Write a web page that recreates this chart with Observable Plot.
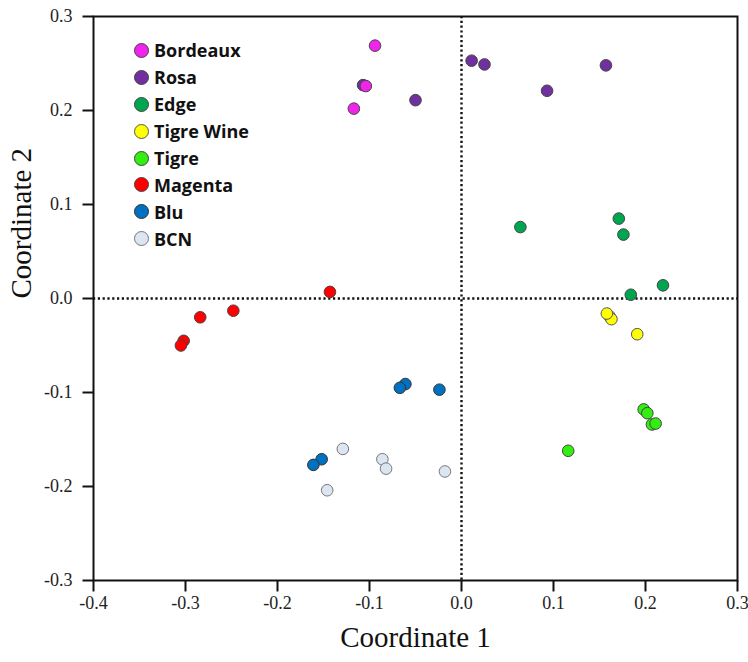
<!DOCTYPE html>
<html>
<head>
<meta charset="utf-8">
<script src="https://cdn.jsdelivr.net/npm/d3@7"></script>
<script src="https://cdn.jsdelivr.net/npm/@observablehq/plot@0.6"></script>
<style>
  html, body { margin: 0; padding: 0; background: #fff; }
  #wrap { position: relative; width: 748px; height: 662px; }
  #legend { position: absolute; left: 134px; top: 37px; font-family: "Open Sans", sans-serif; font-weight: 700; font-size: 18px; color: #111; }
  .row { display: flex; align-items: center; height: 26.9px; }
  .sw { width: 13px; height: 13px; border-radius: 50%; border: 1px solid #555; margin-right: 5px; box-sizing: content-box; }
</style>
</head>
<body>
<div id="wrap"><div id="legend"></div></div>
<script>
const categories = ["Bordeaux", "Rosa", "Edge", "Tigre Wine", "Tigre", "Magenta", "Blu", "BCN"];
const colors = ["#f024ea", "#7030a0", "#00a550", "#ffff00", "#33ee11", "#ff0000", "#0070c0", "#dce6f2"];
const strokes = ["#444", "#444", "#444", "#555", "#444", "#444", "#333", "#777"];

const bordeaux = [[-0.094, 0.269], [-0.104, 0.226], [-0.117, 0.202]];
const rosa = [[-0.107, 0.227], [-0.050, 0.211], [0.011, 0.253], [0.025, 0.249], [0.093, 0.221], [0.157, 0.248]];
const edge = [[0.064, 0.076], [0.171, 0.085], [0.176, 0.068], [0.219, 0.014], [0.184, 0.004]];
const tigreWine = [[0.161, -0.019], [0.163, -0.022], [0.158, -0.016], [0.191, -0.038]];
const tigre = [[0.198, -0.118], [0.202, -0.122], [0.207, -0.134], [0.211, -0.133], [0.116, -0.162]];
const magenta = [[-0.143, 0.007], [-0.248, -0.013], [-0.284, -0.020], [-0.302, -0.045], [-0.305, -0.050]];
const blu = [[-0.061, -0.091], [-0.067, -0.095], [-0.024, -0.097], [-0.152, -0.171], [-0.161, -0.177]];
const bcn = [[-0.129, -0.160], [-0.086, -0.171], [-0.082, -0.181], [-0.146, -0.204], [-0.018, -0.184]];

const xTicks = [-0.4, -0.3, -0.2, -0.1, 0.0, 0.1, 0.2, 0.3];
const yTicks = [-0.3, -0.2, -0.1, 0.0, 0.1, 0.2, 0.3];
const xDomain = [-0.4, 0.3];
const yDomain = [-0.3, 0.3];

const series = [bordeaux, rosa, edge, tigreWine, tigre, magenta, blu, bcn];
// draw order: Rosa beneath Bordeaux
const drawOrder = [1, 0, 2, 3, 4, 5, 6, 7];
const points = [];
for (const i of drawOrder) {
  for (const [x, y] of series[i]) points.push({x, y, group: categories[i], stroke: strokes[i]});
}

const W = 748, H = 662, ML = 93, MR = 11, MT = 16, MB = 82;
const TICK = 11;
// tick length converted from pixels to data units (layout only)
const tx = (xDomain[1] - xDomain[0]) * TICK / (W - ML - MR);
const ty = (yDomain[1] - yDomain[0]) * TICK / (H - MT - MB);

const fmt = d => d.toFixed(1);

const chart = Plot.plot({
  width: W,
  height: H,
  marginLeft: ML,
  marginRight: MR,
  marginTop: MT,
  marginBottom: MB,
  style: {fontFamily: "'Liberation Serif', serif", fontSize: "18px", background: "#fff", color: "#111"},
  x: {domain: xDomain, axis: null},
  y: {domain: yDomain, axis: null},
  color: {domain: categories, range: colors},
  marks: [
    Plot.ruleX([0], {stroke: "#111", strokeWidth: 2.4, strokeDasharray: "2.2,2.6"}),
    Plot.ruleY([0], {stroke: "#111", strokeWidth: 2.4, strokeDasharray: "2.2,2.6"}),
    Plot.dot(points, {x: "x", y: "y", fill: "group", stroke: "stroke", strokeWidth: 1, r: 5.8, fillOpacity: 1}),
    Plot.frame({stroke: "#111", strokeWidth: 2}),
    Plot.link(xTicks, {x1: d => d, x2: d => d, y1: () => yDomain[0], y2: () => yDomain[0] - ty, stroke: "#111", strokeWidth: 2}),
    Plot.link(yTicks, {y1: d => d, y2: d => d, x1: () => xDomain[0], x2: () => xDomain[0] - tx, stroke: "#111", strokeWidth: 2}),
    Plot.text(xTicks, {x: d => d, frameAnchor: "bottom", dy: 28, text: fmt, fontSize: 18, fill: "#222"}),
    Plot.text(yTicks, {y: d => d, frameAnchor: "left", dx: -21, textAnchor: "end", text: fmt, fontSize: 18, fill: "#222"}),
    Plot.text(["Coordinate 1"], {frameAnchor: "bottom", dy: 66, fontSize: 29, fill: "#111"}),
    Plot.text(["Coordinate 2"], {frameAnchor: "left", dx: -72, rotate: -90, fontSize: 29, fill: "#111"})
  ]
});
document.getElementById("wrap").prepend(chart);

const legend = document.getElementById("legend");
categories.forEach((c, i) => {
  const row = document.createElement("div");
  row.className = "row";
  const sw = document.createElement("span");
  sw.className = "sw";
  sw.style.background = colors[i];
  sw.style.borderColor = strokes[i];
  const t = document.createElement("span");
  t.textContent = c;
  row.append(sw, t);
  legend.append(row);
});
</script>
</body>
</html>
